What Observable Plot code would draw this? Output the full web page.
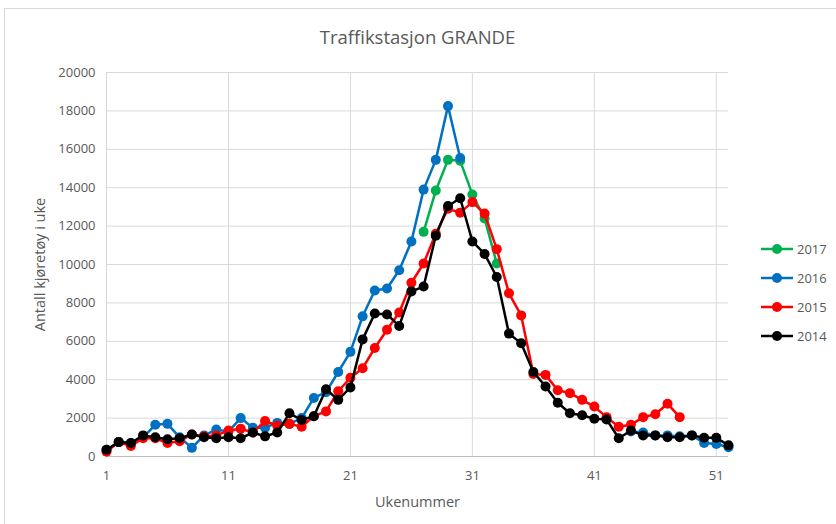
<!DOCTYPE html>
<html>
<head>
<meta charset="utf-8">
<script src="https://cdn.jsdelivr.net/npm/d3@7"></script>
<script src="https://cdn.jsdelivr.net/npm/@observablehq/plot@0.6"></script>
<style>
  html, body { margin: 0; padding: 0; background: #fff; overflow: hidden; }
  #wrap { position: relative; width: 836px; height: 524px; font-family: "Open Sans", sans-serif; }
  #border { position: absolute; left: 4px; top: 8px; width: 840px; height: 530px; border: 1px solid #d9d9d9; box-sizing: border-box; }
  #chart { position: absolute; left: 0; top: 0; }
  #legend { position: absolute; left: 760px; top: 240px; font-size: 13px; color: #595959; }
  .item { position: absolute; left: 0; height: 18px; white-space: nowrap; display: flex; align-items: center; }
  .item svg { margin-right: 3px; }
</style>
</head>
<body>
<div id="wrap">
  <div id="border"></div>
  <div id="chart"></div>
  <div id="legend"></div>
</div>
<script>
const title = "Traffikstasjon GRANDE";
const xLabel = "Ukenummer";
const yLabel = "Antall kjøretøy i uke";
const xTicks = [1, 11, 21, 31, 41, 51];
const yTicks = [0, 2000, 4000, 6000, 8000, 10000, 12000, 14000, 16000, 18000, 20000];
const weeks = d3.range(1, 53);
const years = ["2017", "2016", "2015", "2014"];
const colors = ["#00b050", "#0070c0", "#ff0000", "#000000"];

const v2014 = [350,750,700,1100,1000,900,950,1150,1000,950,
               1000,950,1250,1050,1250,2250,1900,2100,3500,2950,
               3600,6100,7450,7400,6800,8600,8850,11500,13050,13450,
               11200,10550,9350,6400,5900,4400,3650,2800,2250,2150,
               1970,1930,950,1350,1100,1100,1000,1000,1100,980,
               980,580];
const v2015 = [250,750,550,950,950,700,800,1150,1050,1100,
               1350,1450,1250,1850,1600,1700,1550,2100,2350,3400,
               4100,4600,5650,6600,7500,9050,10050,11600,12900,12700,
               13250,12650,10800,8500,7350,4300,4250,3450,3300,2950,
               2600,2050,1550,1650,2050,2200,2750,2050,null,null,
               null,null];
const v2016 = [350,750,700,1000,1650,1700,1000,450,1100,1400,
               1300,2000,1500,1500,1750,1700,2000,3050,3350,4400,
               5450,7300,8650,8750,9700,11200,13900,15450,18250,15550,
               null,null,null,null,null,null,null,null,null,null,
               null,null,null,1300,1250,1100,1100,1050,1100,700,
               650,480];
const v2017 = [null,null,null,null,null,null,null,null,null,null,
               null,null,null,null,null,null,null,null,null,null,
               null,null,null,null,null,null,11700,13850,15450,15400,
               13650,12400,10050,null,null,null,null,null,null,null,
               null,null,null,null,null,null,null,null,null,null,
               null,null];
const seriesValues = [v2017, v2016, v2015, v2014];

const seriesMarks = [];
years.forEach((yr, k) => {
  const rows = weeks.map((w, i) => ({week: w, value: seriesValues[k][i]}));
  seriesMarks.push(Plot.lineY(rows, {x: "week", y: "value", stroke: colors[k], strokeWidth: 2.5}));
  seriesMarks.push(Plot.dot(rows.filter(d => d.value != null), {x: "week", y: "value", fill: colors[k], r: 5}));
});

const chart = Plot.plot({
  width: 836,
  height: 524,
  marginLeft: 106,
  marginRight: 108,
  marginTop: 72,
  marginBottom: 68,
  style: {fontFamily: '"Open Sans", sans-serif', fontSize: "13px", color: "#595959", background: "transparent"},
  x: {domain: [1, 52]},
  y: {domain: [0, 20000]},
  marks: [
    Plot.gridY(yTicks, {stroke: "#d9d9d9", strokeOpacity: 1}),
    Plot.gridX(xTicks, {stroke: "#d9d9d9", strokeOpacity: 1}),
    Plot.ruleY([0], {stroke: "#bfbfbf"}),
    Plot.axisY(yTicks, {tickSize: 0, tickPadding: 11, tickFormat: d => String(d), label: yLabel, labelAnchor: "center", labelArrow: "none", labelOffset: 72, fontSize: 13}),
    Plot.axisX(xTicks, {tickSize: 0, tickPadding: 14, tickFormat: d => String(d), label: xLabel, labelAnchor: "center", labelArrow: "none", labelOffset: 50, fontSize: 13}),
    Plot.text([title], {frameAnchor: "top", dy: -42, fontSize: 18.5, fill: "#595959"}),
    ...seriesMarks
  ]
});
document.getElementById("chart").appendChild(chart);

// enlarge axis-label text slightly to match reference
chart.querySelectorAll("g[aria-label='y-axis label'] text, g[aria-label='x-axis label'] text").forEach(t => t.setAttribute("font-size", "14.5"));

const legend = document.getElementById("legend");
years.forEach((yr, k) => {
  const div = document.createElement("div");
  div.className = "item";
  div.style.top = (k * 29) + "px";
  div.innerHTML = `<svg width="34" height="12"><line x1="1" x2="33" y1="6" y2="6" stroke="${colors[k]}" stroke-width="2.5"/><circle cx="17" cy="6" r="5" fill="${colors[k]}"/></svg><span>${yr}</span>`;
  legend.appendChild(div);
});
</script>
</body>
</html>
